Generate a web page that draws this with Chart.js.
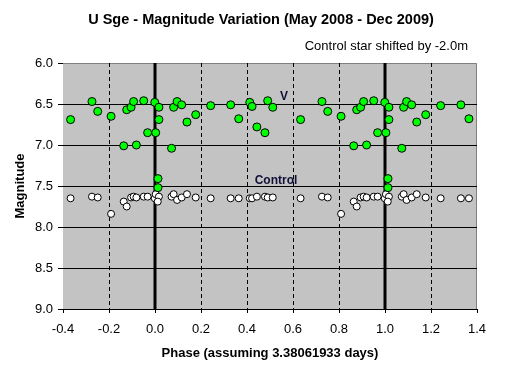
<!DOCTYPE html>
<html>
<head>
<meta charset="utf-8">
<title>U Sge - Magnitude Variation</title>
<script src="https://cdn.jsdelivr.net/npm/chart.js@4.4.1/dist/chart.umd.min.js"></script>
<style>
    html, body { margin: 0; padding: 0; background: #ffffff; }
    #chart_wrap { width: 520px; height: 368px; }
</style>
</head>
<body>
<div id="chart_wrap"><canvas id="phase_chart" width="520" height="368"></canvas></div>
<script>
'use strict';

// V star: phase and magnitude (points outside 0..1 are the repeated cycle)
var vPhase = [
    -0.367, -0.274, -0.249, -0.191, -0.136, -0.123, -0.104, -0.093, -0.081, -0.049,
    -0.032, -0.001, 0.003, 0.017, 0.017, 0.013, 0.013, 0.072, 0.081, 0.096,
    0.116, 0.139, 0.177, 0.242, 0.329, 0.364, 0.412, 0.422, 0.443, 0.478,
    0.490, 0.512, 0.633, 0.726, 0.751, 0.809, 0.864, 0.877, 0.894, 0.907,
    0.920, 0.951, 0.968, 0.999, 1.004, 1.017, 1.017, 1.013, 1.013, 1.073,
    1.081, 1.094, 1.116, 1.138, 1.177, 1.242, 1.330, 1.365
];
var vMag = [
    6.69, 6.47, 6.59, 6.65, 7.01, 6.57, 6.54, 6.47, 7.00, 6.46,
    6.85, 6.48, 6.85, 6.54, 6.69, 7.41, 7.52, 7.04, 6.54, 6.47,
    6.51, 6.72, 6.63, 6.52, 6.51, 6.68, 6.48, 6.53, 6.78, 6.85,
    6.46, 6.54, 6.69, 6.47, 6.59, 6.65, 7.01, 6.57, 6.54, 6.47,
    7.00, 6.46, 6.85, 6.48, 6.85, 6.54, 6.69, 7.41, 7.52, 7.04,
    6.54, 6.47, 6.51, 6.72, 6.63, 6.52, 6.51, 6.68
];

// control star, shifted by -2.0m
var ctlPhase = [
    -0.367, -0.274, -0.249, -0.191, -0.136, -0.123, -0.104, -0.093, -0.081, -0.049,
    -0.032, -0.001, 0.003, 0.017, 0.012, 0.072, 0.081, 0.096, 0.116, 0.139,
    0.177, 0.242, 0.329, 0.364, 0.412, 0.422, 0.443, 0.478, 0.490, 0.512,
    0.633, 0.726, 0.751, 0.809, 0.864, 0.877, 0.894, 0.907, 0.920, 0.951,
    0.968, 0.999, 1.004, 1.017, 1.012, 1.073, 1.081, 1.094, 1.116, 1.138,
    1.177, 1.242, 1.330, 1.365
];
var ctlMag = [
    7.65, 7.63, 7.64, 7.84, 7.69, 7.75, 7.64, 7.63, 7.64, 7.63,
    7.63, 7.65, 7.60, 7.63, 7.69, 7.63, 7.60, 7.67, 7.64, 7.60,
    7.64, 7.65, 7.65, 7.65, 7.65, 7.65, 7.63, 7.63, 7.64, 7.64,
    7.65, 7.63, 7.64, 7.84, 7.69, 7.75, 7.64, 7.63, 7.64, 7.63,
    7.63, 7.65, 7.60, 7.63, 7.69, 7.63, 7.60, 7.67, 7.64, 7.60,
    7.64, 7.65, 7.65, 7.65
];

// axis ticks
var phaseTicks = [-0.4, -0.2, 0.0, 0.2, 0.4, 0.6, 0.8, 1.0, 1.2, 1.4];
var magTicks = [6.0, 6.5, 7.0, 7.5, 8.0, 8.5, 9.0];

var chartTitle = 'U Sge - Magnitude Variation (May 2008 - Dec 2009)';
var chartNote = 'Control star shifted by -2.0m';
var xTitle = 'Phase (assuming 3.38061933 days)';
var yTitle = 'Magnitude';

var FONT = '"Liberation Sans", Arial, sans-serif';

function toPoints(xs, ys) {
    return xs.map(function(x, i) { return { x: x, y: ys[i] }; });
}

// plot background and the Excel-like grid
var plotArea = {
    id: 'plotArea',
    beforeDatasetsDraw: function(chart) {
        var ctx = chart.ctx;
        var a = chart.chartArea;
        var xs = chart.scales.x;
        var ys = chart.scales.y;
        ctx.save();
        ctx.fillStyle = '#c3c3c3';
        ctx.fillRect(a.left, a.top, a.right - a.left, a.bottom - a.top);

        // gray frame top / right
        ctx.strokeStyle = '#808080';
        ctx.lineWidth = 1;
        ctx.beginPath();
        ctx.moveTo(a.left, a.top + 0.5);
        ctx.lineTo(a.right - 0.5, a.top + 0.5);
        ctx.lineTo(a.right - 0.5, a.bottom);
        ctx.stroke();

        // horizontal lines
        ctx.strokeStyle = '#000000';
        magTicks.forEach(function(m) {
            if (m === 6.0 || m === 9.0) return;
            var py = Math.round(ys.getPixelForValue(m)) + 0.5;
            ctx.beginPath();
            ctx.moveTo(a.left, py);
            ctx.lineTo(a.right, py);
            ctx.stroke();
        });

        // vertical lines: dashed, thick at phase 0 and 1
        phaseTicks.forEach(function(p) {
            if (p === -0.4 || p === 1.4) return;
            var px = Math.round(xs.getPixelForValue(p));
            ctx.beginPath();
            if (p === 0 || p === 1) {
                ctx.setLineDash([]);
                ctx.lineWidth = 3;
                ctx.moveTo(px, a.top);
            } else {
                ctx.setLineDash([4, 3]);
                ctx.lineWidth = 1;
                px += 0.5;
                ctx.moveTo(px, a.top);
            }
            ctx.lineTo(px, a.bottom);
            ctx.stroke();
        });
        ctx.setLineDash([]);
        ctx.restore();
    }
};

// titles and in-plot labels
var chartText = {
    id: 'chartText',
    afterDraw: function(chart) {
        var ctx = chart.ctx;
        var a = chart.chartArea;
        var xs = chart.scales.x;
        var ys = chart.scales.y;
        ctx.save();
        ctx.fillStyle = '#000000';
        ctx.textBaseline = 'middle';

        ctx.font = 'bold 14.5px ' + FONT;
        ctx.textAlign = 'center';
        ctx.fillText(chartTitle, 261, 20);

        ctx.font = '13px ' + FONT;
        ctx.textAlign = 'right';
        ctx.fillText(chartNote, 468, 46);

        ctx.font = 'bold 13px ' + FONT;
        ctx.textAlign = 'center';
        ctx.fillText(xTitle, 270, 353);

        ctx.save();
        ctx.translate(20, (a.top + a.bottom) / 2);
        ctx.rotate(-Math.PI / 2);
        ctx.fillText(yTitle, 0, 0);
        ctx.restore();

        ctx.fillStyle = '#101038';
        ctx.font = 'bold 12px ' + FONT;
        ctx.fillText('V', xs.getPixelForValue(0.561), ys.getPixelForValue(6.41));
        ctx.fillText('Control', xs.getPixelForValue(0.526), ys.getPixelForValue(7.43));
        ctx.restore();
    }
};

var ctx = document.getElementById('phase_chart').getContext('2d');

var phaseChart = new Chart(ctx, {
    type: 'scatter',
    data: {
        datasets: [
            {
                label: 'V',
                data: toPoints(vPhase, vMag),
                pointStyle: 'circle',
                pointRadius: 4,
                pointHoverRadius: 4,
                backgroundColor: '#00ff00',
                borderColor: '#000000',
                borderWidth: 1
            },
            {
                label: 'Control',
                data: toPoints(ctlPhase, ctlMag),
                pointStyle: 'circle',
                pointRadius: 3.5,
                pointHoverRadius: 3.5,
                backgroundColor: '#ffffff',
                borderColor: '#000000',
                borderWidth: 1
            }
        ]
    },
    options: {
        responsive: false,
        animation: false,
        events: [],
        layout: {
            padding: { left: 0, right: 43, top: 63, bottom: 0 }
        },
        plugins: {
            legend: { display: false },
            title: { display: false },
            tooltip: { enabled: false }
        },
        scales: {
            x: {
                type: 'linear',
                min: -0.4,
                max: 1.4,
                afterFit: function(scale) { scale.height = 59; },
                afterBuildTicks: function(scale) {
                    scale.ticks = phaseTicks.map(function(v) { return { value: v }; });
                },
                grid: {
                    drawOnChartArea: false,
                    drawTicks: true,
                    tickLength: 4,
                    tickColor: '#000000'
                },
                border: { display: true, color: '#000000', width: 1 },
                ticks: {
                    color: '#000000',
                    padding: 9,
                    maxRotation: 0,
                    font: { family: FONT, size: 13 },
                    callback: function(v) { return v.toFixed(1); }
                }
            },
            y: {
                type: 'linear',
                reverse: true,
                min: 6,
                max: 9,
                afterFit: function(scale) { scale.width = 63; },
                afterBuildTicks: function(scale) {
                    scale.ticks = magTicks.map(function(v) { return { value: v }; });
                },
                grid: {
                    drawOnChartArea: false,
                    drawTicks: true,
                    tickLength: 5,
                    tickColor: '#000000'
                },
                border: { display: true, color: '#000000', width: 1 },
                ticks: {
                    color: '#000000',
                    padding: 5,
                    font: { family: FONT, size: 13 },
                    callback: function(v) { return v.toFixed(1); }
                }
            }
        }
    },
    plugins: [plotArea, chartText]
});
</script>
</body>
</html>
